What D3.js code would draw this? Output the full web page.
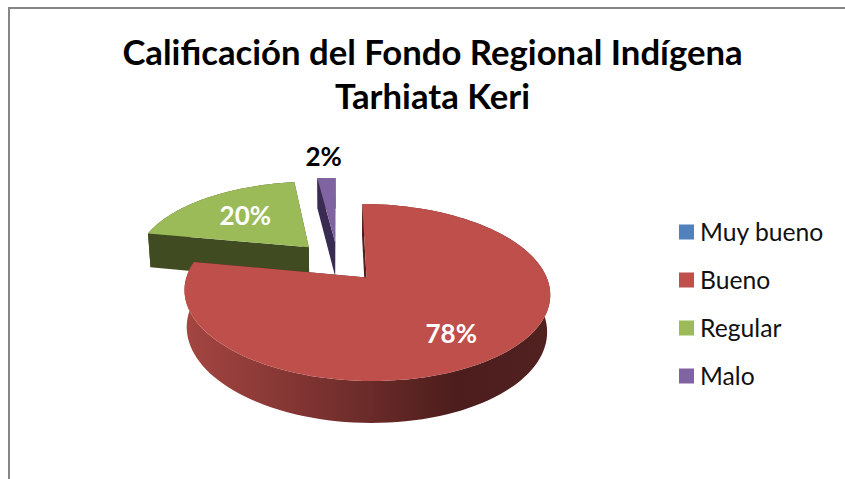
<!DOCTYPE html>
<html><head><meta charset="utf-8">
<script src="https://cdn.jsdelivr.net/npm/d3@7"></script>
<style>html,body{margin:0;padding:0;background:#fff}svg{display:block}text{font-family:Lato,"Open Sans",sans-serif}</style>
</head><body><svg id="c" width="845" height="479"></svg>
<script>
const titleLines = ["Calificación del Fondo Regional Indígena", "Tarhiata Keri"];
const categories = ["Muy bueno", "Bueno", "Regular", "Malo"];
const percents = [0, 78, 20, 2];
const legendColors = ["#4F81BD", "#C0504D", "#9BBB59", "#8064A2"];
const topColors = ["#4F81BD", "#BE4F4B", "#9BBB59", "#8064A2"];
const wallColors = ["#2A4565", "#4F1F1E", "#414B21", "#392B52"];

const width = 845, height = 479;
const svg = d3.select("#c");
const explode = 0.25;
const labelRadius = [0, 0.717, 0.603, 1.398];
const labelTurn = [0, 5, 0, 0];
const labelColors = ["#fff", "#fff", "#fff", "#000"];

// Perspective projection of the tilted disc
const ox = 337.8, oy = 261.5, R = 174.5, A = 80.6, K = 0.164, M = 0.014, B = 36;
const project = (u, v, z) => {
  const w = 1 + K * v + M * z;
  return [ox + R * u / w, oy + (-A * v + B * z) / w];
};

// gray frame: left and top edges only
svg.append("path")
  .attr("d", d3.line()([[9, height], [9, 8], [width, 8]]))
  .attr("fill", "none").attr("stroke", "#868686").attr("stroke-width", 2);

const pie = d3.pie().sort(null).value(d => d)
  .startAngle(0).endAngle(2 * Math.PI);
const arcs = pie(percents);

const defs = svg.append("defs");
const grad = defs.append("linearGradient").attr("id", "redWall")
  .attr("gradientUnits", "userSpaceOnUse")
  .attr("x1", 186).attr("x2", 548).attr("y1", 0).attr("y2", 0);
[[0, "#A44541"], [0.2, "#8E3B38"], [0.5, "#6B2B29"], [0.75, "#4B1D1C"], [1, "#512120"]]
  .forEach(s => grad.append("stop").attr("offset", s[0]).attr("stop-color", s[1]));

const line = d3.line();
const slices = arcs.map((a, i) => {
  const mid = (a.startAngle + a.endAngle) / 2;
  const cu = explode * Math.sin(mid), cv = explode * Math.cos(mid);
  const arcPts = z => d3.range(0, 121).map(t => {
    const ang = a.startAngle + (a.endAngle - a.startAngle) * t / 120;
    return project(cu + Math.sin(ang), cv + Math.cos(ang), z);
  });
  const apex = z => project(cu, cv, z);
  return {a, i, mid, cu, cv, arcPts, apex};
}).filter(s => s.a.endAngle > s.a.startAngle);

// back slices first
const order = slices.slice().sort((p, q) => q.i - p.i);
order.forEach(s => {
  const g = svg.append("g");
  const top = s.arcPts(0), bot = s.arcPts(1);
  const wall = s.i === 1 ? "url(#redWall)" : wallColors[s.i];
  g.append("path").attr("d", line(top.concat(bot.slice().reverse())) + "Z").attr("fill", wall);
  g.append("path").attr("d", line([s.apex(0), top[0], bot[0], s.apex(1)]) + "Z").attr("fill", wallColors[s.i]);
  g.append("path").attr("d", line([s.apex(0), top[top.length - 1], bot[bot.length - 1], s.apex(1)]) + "Z").attr("fill", wallColors[s.i]);
  g.append("path").attr("d", line([s.apex(0), ...top]) + "Z").attr("fill", topColors[s.i]);
});

// value labels
slices.forEach(s => {
  const ang = s.mid + labelTurn[s.i] * Math.PI / 180;
  const r = labelRadius[s.i];
  const p = project(s.cu + r * Math.sin(ang), s.cv + r * Math.cos(ang), 0);
  svg.append("text").attr("x", p[0]).attr("y", p[1]).attr("dy", "0.35em")
    .attr("text-anchor", "middle").attr("font-weight", 700).attr("font-size", 26)
    .attr("fill", labelColors[s.i]).text(percents[s.i] + "%");
});

// title
svg.selectAll("text.title").data(titleLines).join("text").attr("class", "title")
  .attr("x", 432.5).attr("y", (d, i) => 65 + i * 43.5)
  .attr("text-anchor", "middle").attr("font-weight", 700).attr("font-size", 34.7)
  .attr("fill", "#000").text(d => d);

// legend
const legY = d3.scalePoint().domain(categories).range([232, 376]);
const leg = svg.selectAll("g.leg").data(categories).join("g").attr("class", "leg")
  .attr("transform", d => `translate(679,${legY(d)})`);
leg.append("rect").attr("x", 0).attr("y", -7.5).attr("width", 15).attr("height", 15)
  .attr("fill", (d, i) => legendColors[i]);
leg.append("text").attr("x", 21).attr("y", 0).attr("dy", "0.35em")
  .attr("font-size", 24.7).attr("fill", "#111").text(d => d);
</script></body></html>
